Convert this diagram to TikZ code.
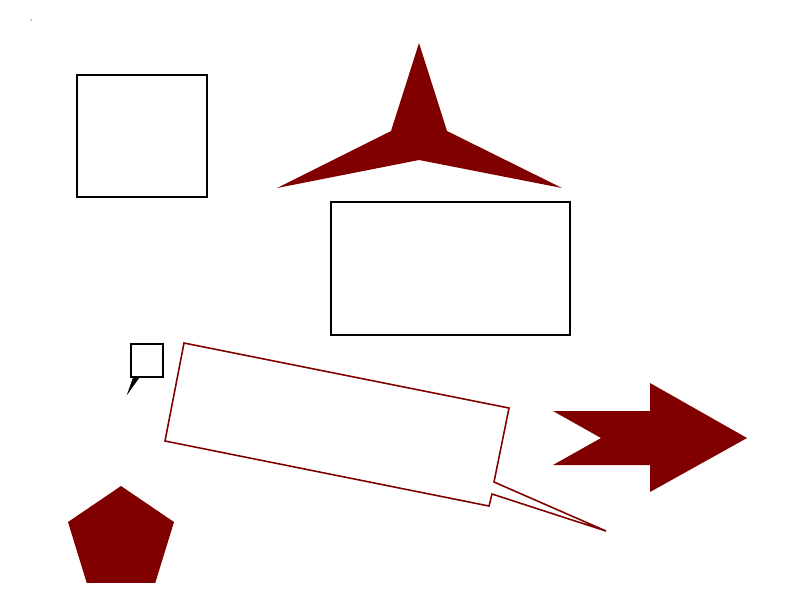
\documentclass[tikz,border=0pt]{standalone}
\definecolor{darkred}{RGB}{128,0,0}
\tikzset{
  outline/.style={draw=black, thick, line join=miter},
  redline/.style={draw=darkred, line width=.9pt, line join=miter},
  redfill/.style={fill=darkred, draw=none}
}
\begin{document}
\begin{tikzpicture}[x=.02cm, y=-.02cm]
    \useasboundingbox (0,0) rectangle (800,600);
    \fill [darkred] (31,20) circle (.6);
    % boxes
    \draw [outline] (77,75) rectangle (207,197);
    \draw [outline] (331,202) rectangle (570,335);
    % three pointed star
    \fill [redfill] (419,43)--(447,131)--(562,188)--(419,160)--(277,188)--(391,131)--cycle;
    % callouts
    \draw [outline, fill=black] (134,377)--(129,391)--(139,377);
    \draw [outline] (131,344)--(163,344)--(163,377)--(131,377)--cycle;
    \draw [redline] (184,343)--(509,408)--(494,482)--(606,531)--(492,494)--(489,506)--(165,441)--cycle;
    % arrow
    \fill [redfill] (553,411)--(650,411)--(650,383)--(747,438)--(650,492)--(650,465)--(553,465)--(601,438)--cycle;
    % pentagon
    \begin{scope}
    \clip (0,0) rectangle (800,582);
    \fill [redfill] (121,486)--(174,522)--(154,587)--(88,587)--(68,522)--cycle;
    \end{scope}
\end{tikzpicture}
\end{document}
